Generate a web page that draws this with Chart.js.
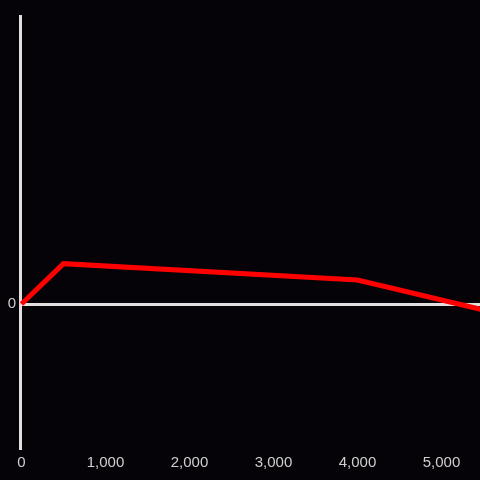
<!DOCTYPE html>
<html>
<head>
<meta charset="utf-8">
<script src="https://cdn.jsdelivr.net/npm/chart.js@4"></script>
<style>
  html, body { margin: 0; padding: 0; background: #050307; }
  #wrap { width: 480px; height: 480px; }
</style>
</head>
<body>
<div id="wrap"><canvas id="chart"></canvas></div>
<script>
const xValues = [0, 500, 4000, 5500];
const yValues = [0, 280, 167, -41];
const xTicks = [0, 1000, 2000, 3000, 4000, 5000];

const axisColor = "#e0e0e0";
const labelColor = "#cfcfcf";

new Chart(document.getElementById("chart"), {
  type: "line",
  data: {
    datasets: [{
      data: xValues.map((x, i) => ({ x: x, y: yValues[i] })),
      borderColor: "#ff0000",
      borderWidth: 5,
      pointRadius: 0,
      tension: 0,
      fill: false,
    }],
  },
  options: {
    responsive: true,
    maintainAspectRatio: false,
    animation: false,
    layout: { padding: { top: 16, right: 0, left: 0, bottom: 0 } },
    plugins: { legend: { display: false }, tooltip: { enabled: false } },
    scales: {
      x: {
        type: "linear",
        min: -18,
        max: 5458,
        afterBuildTicks: (axis) => {
          axis.ticks = xTicks.map((v) => ({ value: v }));
        },
        afterFit: (axis) => { axis.height = 32; },
        grid: { display: false },
        border: { display: false },
        ticks: {
          color: labelColor,
          font: { family: "Liberation Sans, Arial, sans-serif", size: 15 },
          maxRotation: 0,
          padding: -2,
          callback: (v) => v.toLocaleString("en-US"),
        },
      },
      y: {
        min: -1000,
        max: 2000,
        afterBuildTicks: (axis) => {
          axis.ticks = [{ value: 0 }];
        },
        afterFit: (axis) => { axis.width = 20; },
        grid: {
          drawTicks: false,
          color: axisColor,
          lineWidth: 3,
        },
        border: { display: true, color: axisColor, width: 3 },
        ticks: {
          color: labelColor,
          font: { family: "Liberation Sans, Arial, sans-serif", size: 15 },
          padding: 4,
        },
      },
    },
  },
});
</script>
</body>
</html>
